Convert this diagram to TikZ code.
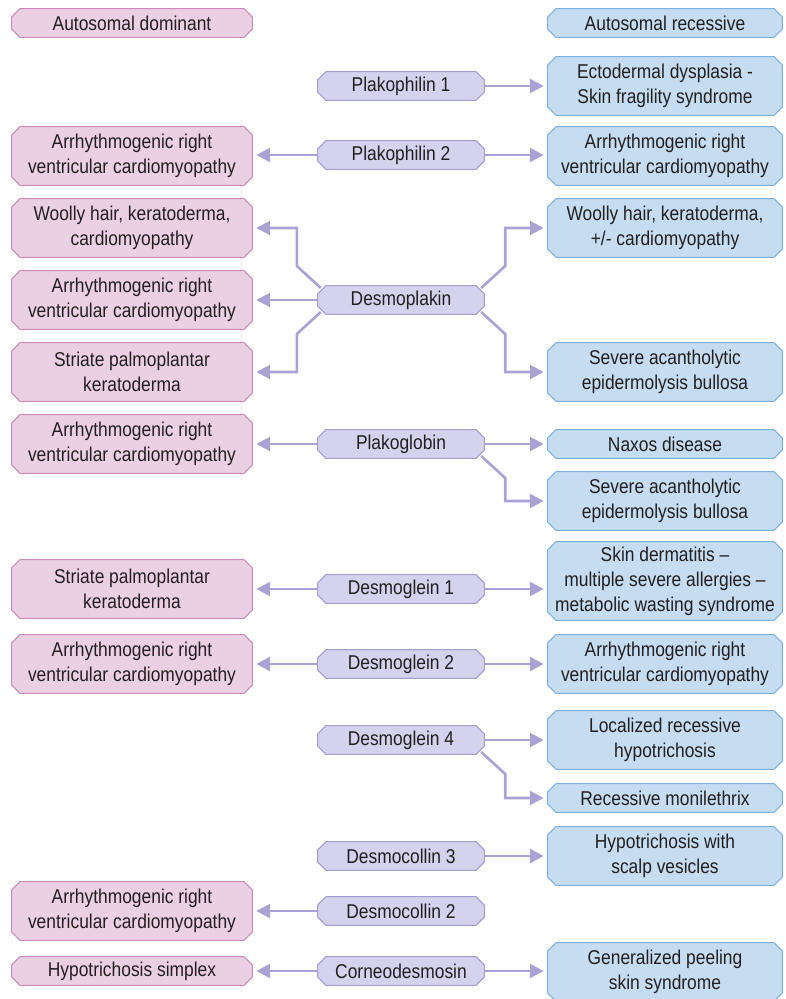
\documentclass[tikz,border=0pt]{standalone}
\usepackage{fontspec}
\setmainfont{Liberation Sans}[FakeStretch=0.87]
\usetikzlibrary{arrows.meta,calc}

\definecolor{pinkfill}{HTML}{EBD0E3}
\definecolor{pinkline}{HTML}{C88BBB}
\definecolor{lilacfill}{HTML}{D4D2EC}
\definecolor{lilacline}{HTML}{A29CCF}
\definecolor{bluefill}{HTML}{C5DCF1}
\definecolor{blueline}{HTML}{7FB1E0}
\definecolor{arrowc}{HTML}{A9A2D3}
\definecolor{inkc}{HTML}{231F20}

\tikzset{
  % rectangle node whose visible outline has its four corners cut off
  chbox/.style 2 args={rectangle, draw=none, align=center, inner sep=0pt,
    text=inkc, font=\fontsize{20}{25}\selectfont,
    path picture={
      \filldraw[fill=#1, draw=#2, line width=1.1pt]
        ([xshift=.6pt,yshift=-9pt]path picture bounding box.north west)
        -- ([xshift=9pt,yshift=-.6pt]path picture bounding box.north west)
        -- ([xshift=-9pt,yshift=-.6pt]path picture bounding box.north east)
        -- ([xshift=-.6pt,yshift=-9pt]path picture bounding box.north east)
        -- ([xshift=-.6pt,yshift=9pt]path picture bounding box.south east)
        -- ([xshift=-9pt,yshift=.6pt]path picture bounding box.south east)
        -- ([xshift=9pt,yshift=.6pt]path picture bounding box.south west)
        -- ([xshift=.6pt,yshift=9pt]path picture bounding box.south west)
        -- cycle;}},
  dombox/.style={chbox={pinkfill}{pinkline}, minimum width=242pt},
  genebox/.style={chbox={lilacfill}{lilacline}, minimum width=168pt, minimum height=30pt},
  recbox/.style={chbox={bluefill}{blueline}, minimum width=236pt},
  one/.style={minimum height=30pt},
  two/.style={minimum height=60pt},
  three/.style={minimum height=80pt},
  arr/.style={draw=arrowc, line width=2.6pt,
    -{Triangle[length=14pt,width=14pt]}, shorten >=3pt},
}

\begin{document}
\begin{tikzpicture}[x=1pt,y=-1pt]
\useasboundingbox (0,0) rectangle (785,999);
\clip (0,0) rectangle (785,999);

% autosomal dominant column
\node[dombox,one] (lAD)  at (132,23)  {Autosomal dominant};
\node[dombox,two] (lPk2) at (132,156) {Arrhythmogenic right\\ventricular cardiomyopathy};
\node[dombox,two] (lDp1) at (132,228) {Woolly hair, keratoderma,\\cardiomyopathy};
\node[dombox,two] (lDp2) at (132,300) {Arrhythmogenic right\\ventricular cardiomyopathy};
\node[dombox,two] (lDp3) at (132,372) {Striate palmoplantar\\keratoderma};
\node[dombox,two] (lPg)  at (132,444) {Arrhythmogenic right\\ventricular cardiomyopathy};
\node[dombox,two] (lDg1) at (132,589) {Striate palmoplantar\\keratoderma};
\node[dombox,two] (lDg2) at (132,664) {Arrhythmogenic right\\ventricular cardiomyopathy};
\node[dombox,two] (lDc2) at (132,911) {Arrhythmogenic right\\ventricular cardiomyopathy};
\node[dombox,one] (lCd)  at (132,971) {Hypotrichosis simplex};

% genes
\node[genebox] (mPk1) at (401,86)  {Plakophilin 1};
\node[genebox] (mPk2) at (401,155) {Plakophilin 2};
\node[genebox] (mDp)  at (401,300) {Desmoplakin};
\node[genebox] (mPg)  at (401,444) {Plakoglobin};
\node[genebox] (mDg1) at (401,589) {Desmoglein 1};
\node[genebox] (mDg2) at (401,664) {Desmoglein 2};
\node[genebox] (mDg4) at (401,740) {Desmoglein 4};
\node[genebox] (mDc3) at (401,856) {Desmocollin 3};
\node[genebox] (mDc2) at (401,911) {Desmocollin 2};
\node[genebox] (mCd)  at (401,971) {Corneodesmosin};

% autosomal recessive column
\node[recbox,one]   (rAR)   at (665,23)  {Autosomal recessive};
\node[recbox,two]   (rPk1)  at (665,86)  {Ectodermal dysplasia -\\Skin fragility syndrome};
\node[recbox,two]   (rPk2)  at (665,156) {Arrhythmogenic right\\ventricular cardiomyopathy};
\node[recbox,two]   (rDp1)  at (665,228) {Woolly hair, keratoderma,\\+/- cardiomyopathy};
\node[recbox,two]   (rDp2)  at (665,372) {Severe acantholytic\\epidermolysis bullosa};
\node[recbox,one]   (rPg1)  at (665,444) {Naxos disease};
\node[recbox,two]   (rPg2)  at (665,501) {Severe acantholytic\\epidermolysis bullosa};
\node[recbox,three] (rDg1)  at (665,581) {Skin dermatitis –\\multiple severe allergies –\\metabolic wasting syndrome};
\node[recbox,two]   (rDg2)  at (665,664) {Arrhythmogenic right\\ventricular cardiomyopathy};
\node[recbox,two]   (rDg4a) at (665,740) {Localized recessive\\hypotrichosis};
\node[recbox,one]   (rDg4b) at (665,798) {Recessive monilethrix};
\node[recbox,two]   (rDc3)  at (665,856) {Hypotrichosis with\\scalp vesicles};
\node[recbox,two]   (rCd)   at (665,972) {Generalized peeling\\skin syndrome};

% straight connectors
\draw[arr] (mPk1.east) -- (mPk1.east -| rPk1.west);
\draw[arr] (mPk2.west) -- (mPk2.west -| lPk2.east);
\draw[arr] (mPk2.east) -- (mPk2.east -| rPk2.west);
\draw[arr] (mDp.west)  -- (mDp.west -| lDp2.east);
\draw[arr] (mPg.west)  -- (mPg.west -| lPg.east);
\draw[arr] (mPg.east)  -- (mPg.east -| rPg1.west);
\draw[arr] (mDg1.west) -- (mDg1.west -| lDg1.east);
\draw[arr] (mDg1.east) -- (mDg1.east -| rDg1.west);
\draw[arr] (mDg2.west) -- (mDg2.west -| lDg2.east);
\draw[arr] (mDg2.east) -- (mDg2.east -| rDg2.west);
\draw[arr] (mDg4.east) -- (mDg4.east -| rDg4a.west);
\draw[arr] (mDc3.east) -- (mDc3.east -| rDc3.west);
\draw[arr] (mDc2.west) -- (mDc2.west -| lDc2.east);
\draw[arr] (mCd.west)  -- (mCd.west -| lCd.east);
\draw[arr] (mCd.east)  -- (mCd.east -| rCd.west);

% branching connectors leaving from the cut corners
\draw[arr] ($(mDp.west)+(4,-12)$)  -- ++(-24,-22) |- (lDp1.east);
\draw[arr] ($(mDp.west)+(4,12)$)   -- ++(-24,22)  |- (lDp3.east);
\draw[arr] ($(mDp.east)+(-4,-12)$) -- ++(24,-22)  |- (rDp1.west);
\draw[arr] ($(mDp.east)+(-4,12)$)  -- ++(24,22)   |- (rDp2.west);
\draw[arr] ($(mPg.east)+(-4,12)$)  -- ++(24,22)   |- (rPg2.west);
\draw[arr] ($(mDg4.east)+(-4,12)$) -- ++(24,22)   |- (rDg4b.west);
\end{tikzpicture}
\end{document}
